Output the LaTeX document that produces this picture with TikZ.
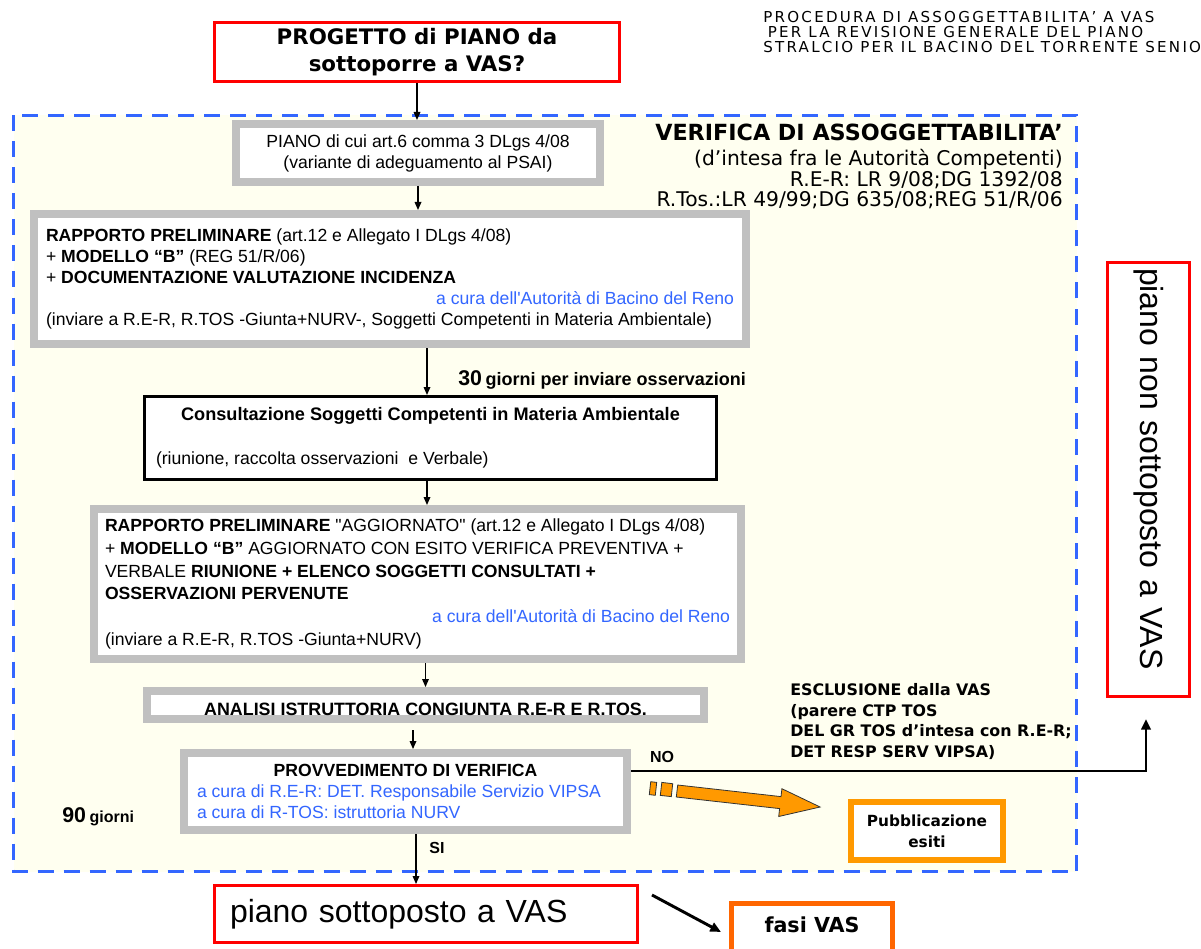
\documentclass[tikz,border=0pt]{standalone}
\usepackage{fontspec}
\setmainfont{Liberation Sans}
\newfontfamily\lib{Liberation Sans}
\newfontfamily\dv{DejaVu Sans}
\newfontfamily\dvsp[LetterSpace=15]{DejaVu Sans}
\usetikzlibrary{arrows.meta,calc}
\definecolor{boxgray}{RGB}{192,192,192}
\definecolor{dashblue}{RGB}{51,102,255}
\definecolor{txtblue}{RGB}{51,102,255}
\definecolor{cream}{RGB}{255,255,240}
\definecolor{orng}{RGB}{255,153,0}
\definecolor{orngred}{RGB}{255,102,0}
\definecolor{vred}{RGB}{255,0,0}
\begin{document}
\begin{tikzpicture}[x=0.75pt,y=-0.75pt,
  graybox/.style={draw=boxgray,line width=6pt,fill=white,inner sep=0pt},
  redbox/.style={draw=vred,line width=2.25pt,fill=white,inner sep=0pt},
  blackbox/.style={draw=black,line width=2.25pt,fill=white,inner sep=0pt},
  orbox/.style={draw=orng,line width=4.5pt,fill=white,inner sep=0pt},
  arr/.style={-{Triangle[length=6pt,width=5pt]},line width=0.9pt},
  thickarr/.style={-{Triangle[length=8pt,width=7pt]},line width=2.2pt},
  txt/.style={inner sep=0pt},
]
\useasboundingbox (0,0) rectangle (1201,948);
\fill[white] (0,0) rectangle (1201,948);

% dashed region
\draw[dashblue,line width=2.25pt,fill=cream,dash pattern=on 12pt off 7.5pt] (13.5,115.5) rectangle (1076.5,871.5);

% title
\node[txt,anchor=north west,align=left,font=\dvsp\fontsize{11.3}{11.25}\selectfont] (title) at (763,11)
 {PROCEDURA DI ASSOGGETTABILITA’ A VAS\\\hspace*{0.3em}PER LA REVISIONE GENERALE DEL PIANO\\STRALCIO PER IL BACINO DEL TORRENTE SENIO};

% boxes
\node[redbox,minimum width=405*0.75pt,minimum height=59*0.75pt,align=center,font=\dv\bfseries\fontsize{16}{20.25}\selectfont] (prog) at (417,52)
 {PROGETTO di PIANO da\\sottoporre a VAS?};

\node[graybox,minimum width=364*0.75pt,minimum height=58*0.75pt,align=center,font=\lib\fontsize{13.2}{15.75}\selectfont] (piano) at (418,153)
 {PIANO di cui art.6 comma 3 DLgs 4/08\\(variante di adeguamento al PSAI)};

\node[graybox,minimum width=712*0.75pt,minimum height=130*0.75pt,align=left,font=\lib\fontsize{13.2}{15.75}\selectfont] (rap1) at (390,279)
 {\textbf{RAPPORTO PRELIMINARE} (art.12 e Allegato I DLgs 4/08)\\
  + \textbf{MODELLO “B”} (REG 51/R/06)\\
  + \textbf{DOCUMENTAZIONE VALUTAZIONE INCIDENZA}\\
  \makebox[516pt][r]{\color{txtblue}a cura dell'Autorità di Bacino del Reno}\\
  (inviare a R.E-R, R.TOS -Giunta+NURV-, Soggetti Competenti in Materia Ambientale)};

\node[blackbox,minimum width=572*0.75pt,minimum height=83*0.75pt,align=left,font=\lib\fontsize{13.2}{15.5}\selectfont] (cons) at (430.5,438)
 {\makebox[411.75pt][c]{\bfseries\fontsize{13.6}{15.5}\selectfont Consultazione Soggetti Competenti in Materia Ambientale}\\[17.5pt]
  \makebox[411.75pt][l]{(riunione, raccolta osservazioni\ \ e Verbale)}};

\node[graybox,minimum width=647*0.75pt,minimum height=150*0.75pt,align=left,font=\lib\fontsize{13.2}{17.1}\selectfont] (rap2) at (417.5,584)
 {\textbf{RAPPORTO PRELIMINARE} "AGGIORNATO" (art.12 e Allegato I DLgs 4/08)\\
  + \textbf{MODELLO “B”} AGGIORNATO CON ESITO VERIFICA PREVENTIVA +\\
  VERBALE \textbf{RIUNIONE + ELENCO SOGGETTI CONSULTATI +}\\
  \textbf{OSSERVAZIONI PERVENUTE}\\
  \makebox[468.75pt][r]{\color{txtblue}a cura dell'Autorità di Bacino del Reno}\\
  (inviare a R.E-R, R.TOS -Giunta+NURV)};

\node[graybox,minimum width=557*0.75pt,minimum height=28*0.75pt,font=\lib\bfseries\fontsize{13.4}{15}\selectfont] (anal) at (425.5,705)
 {\raisebox{-3.5pt}[\height][\depth]{ANALISI ISTRUTTORIA CONGIUNTA R.E-R E R.TOS.}};

\node[graybox,minimum width=443*0.75pt,minimum height=77*0.75pt,align=left,font=\lib\fontsize{13.2}{15.75}\selectfont] (prov) at (405.5,791.5)
 {\makebox[312.75pt][c]{\bfseries PROVVEDIMENTO DI VERIFICA}\\
  \textcolor{txtblue}{a cura di R.E-R: DET. Responsabile Servizio VIPSA}\\
  \textcolor{txtblue}{a cura di R-TOS: istruttoria NURV}};

\node[orbox,minimum width=152*0.75pt,minimum height=58*0.75pt,align=center,font=\dv\bfseries\fontsize{11.5}{15.75}\selectfont] (pub) at (927,831)
 {Pubblicazione\\esiti};

\node[redbox,minimum width=423*0.75pt,minimum height=57*0.75pt,text width=294pt,align=left,font=\lib\fontsize{24}{28}\selectfont] (sott) at (426,914)
 {piano sottoposto a VAS};

\node[draw=orngred,line width=3.75pt,fill=white,inner sep=0pt,minimum width=161*0.75pt,minimum height=70*0.75pt,font=\dv\bfseries\fontsize{15.5}{18}\selectfont] (fasi) at (812,938.5)
 {\raisebox{10pt}[\height][\depth]{fasi VAS}};

\node[redbox,rotate=-90,minimum width=434*0.75pt,minimum height=82*0.75pt,text width=317.25pt,align=left,font=\lib\fontsize{24}{28}\selectfont] (non) at (1148.5,479.5)
 {piano non sottoposto a VAS};

% right header texts
\node[txt,anchor=base east,font=\dv\bfseries\fontsize{16.7}{20}\selectfont] (ver1) at (1063,141) {VERIFICA DI ASSOGGETTABILITA’};
\node[txt,anchor=base east,font=\dv\fontsize{15.2}{18}\selectfont] (ver2) at (1063,165.5) {(d’intesa fra le Autorità Competenti)};
\node[txt,anchor=base east,font=\dv\fontsize{15.2}{18}\selectfont] (ver3) at (1063,186.5) {R.E-R: LR 9/08;DG 1392/08};
\node[txt,anchor=base east,font=\dv\fontsize{15.2}{18}\selectfont] (ver4) at (1063,206.5) {R.Tos.:LR 49/99;DG 635/08;REG 51/R/06};

% other labels
\node[txt,anchor=base west,font=\lib\bfseries] (g30) at (458,385.5)
 {{\fontsize{16}{16}\selectfont 30} {\fontsize{13.5}{16}\selectfont giorni per inviare osservazioni}};
\node[txt,anchor=base west,font=\lib\bfseries] (g90) at (62,822.5)
 {{\fontsize{16}{16}\selectfont 90} {\fontsize{12}{16}\selectfont giorni}};
\node[txt,anchor=north west,align=left,font=\dv\bfseries\fontsize{11.9}{15.6}\selectfont] (escl) at (790,683)
 {ESCLUSIONE dalla VAS\\(parere CTP TOS\\DEL GR TOS d’intesa con R.E-R;\\DET RESP SERV VIPSA)};
\node[txt,font=\lib\bfseries\fontsize{12}{14}\selectfont] (no) at (662,757) {NO};
\node[txt,font=\lib\bfseries\fontsize{12}{14}\selectfont] (si) at (437,848) {SI};

% connector anchor points
\coordinate (c1) at ($(cons.north)+(-3.5,0)$);
\coordinate (c2) at ($(cons.south)+(-3.5,0)$);
\coordinate (p1) at ($(prov.north)+(7.5,0)$);
\coordinate (p0) at ($(prov.north)+(7.5,-19)$);
\coordinate (p2) at ($(prov.south)+(10.5,0)$);
\coordinate (ne) at ($(prov.east)+(0,-20.5)$);
\coordinate (nc) at (1146,771);
\coordinate (nt) at ($(non.east)+(-2.5,21)$);
\coordinate (f1) at (652,895);
\coordinate (f2) at ($(fasi.west)+(-8,-6.5)$);

% connectors
\draw[arr] (prog.south) -- (prog.south |- piano.north);
\draw[arr] (piano.south) -- (piano.south |- rap1.north);
\draw[arr] (c1 |- rap1.south) -- (c1);
\draw[arr] (c2) -- (c2 |- rap2.north);
\draw[arr] (anal.north |- rap2.south) -- (anal.north);
\draw[arr] (p0) -- (p1);
\draw[arr] (p2) -- (p2 |- sott.north);
\draw[thickarr] (ne) -- (nc) -- (nt);
\draw[thickarr] (f1) -- (f2);

% orange block arrow
\draw[black!80,line width=0.6pt,fill=orng]
  (677.7,785.0) -- (781.0,796.6) -- (781.9,788.7) -- (820.1,807) -- (778.7,816.5) -- (779.6,808.6) -- (676.3,797.0) -- cycle;
\draw[black!80,line width=0.6pt,fill=orng]
  (650.7,781.7) -- (656.7,782.4) -- (655.3,795.3) -- (649.3,794.6) -- cycle;
\draw[black!80,line width=0.6pt,fill=orng]
  (661.8,782.4) -- (672.7,783.7) -- (671.3,796.6) -- (660.3,795.4) -- cycle;
\end{tikzpicture}
\end{document}
